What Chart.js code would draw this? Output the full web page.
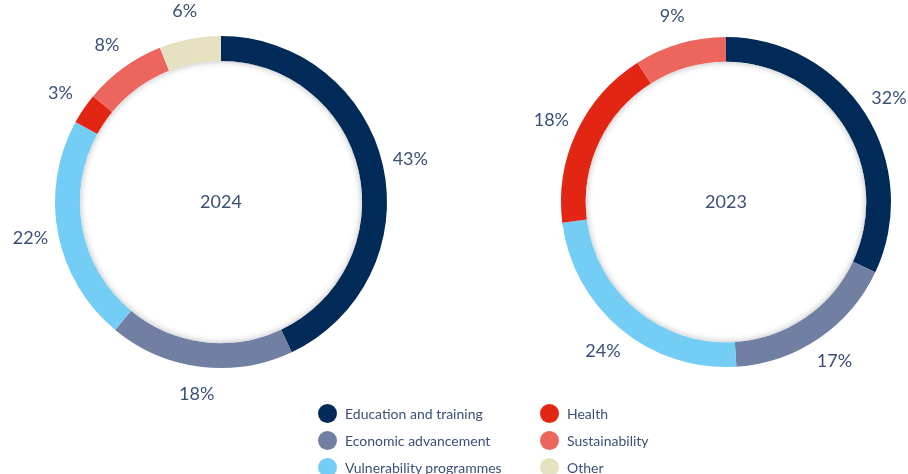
<!DOCTYPE html>
<html>
<head>
<meta charset="utf-8">
<script src="https://cdn.jsdelivr.net/npm/chart.js@4.4.1/dist/chart.umd.min.js"></script>
<style>
  html, body { margin: 0; padding: 0; background: #fff; }
  body { width: 908px; height: 474px; position: relative; overflow: hidden; font-family: Lato, "Open Sans", sans-serif; }
  #c2024 { position: absolute; left: 0; top: 0; }
  #c2023 { position: absolute; left: 526px; top: 0; }
  .legend { position: absolute; top: 400px; color: #3a5075; font-size: 14px; }
  .legend div { height: 27px; display: flex; align-items: center; }
  .legend span.dot { width: 19px; height: 19px; border-radius: 50%; display: inline-block; margin-right: 8px; }
</style>
</head>
<body>
<canvas id="c2024" width="442" height="404"></canvas>
<canvas id="c2023" width="382" height="404"></canvas>
<div class="legend" id="leg1" style="left:318px"></div>
<div class="legend" id="leg2" style="left:540px"></div>
<script>
// categories and values
const categories = ['Education and training', 'Economic advancement', 'Vulnerability programmes', 'Health', 'Sustainability', 'Other'];
const values2024 = [43, 18, 22, 3, 8, 6];
const values2023 = [32, 17, 24, 18, 9, 0];
const colors = ['#002b59', '#717fa3', '#73cdf5', '#e32514', '#ec665d', '#e6e1c0'];
const textColor = '#3a5075';

// percent labels outside the ring + centre text + inner shadow
const ringExtras = {
    id: 'ringExtras',
    afterDatasetsDraw(chart, args, opts) {
        const ctx = chart.ctx;
        const meta = chart.getDatasetMeta(0);
        const arc0 = meta.data[0];
        const cx = arc0.x, cy = arc0.y;
        const inner = arc0.innerRadius, outer = arc0.outerRadius;

        // soft shadow on the inner edge
        ctx.save();
        ctx.beginPath();
        ctx.arc(cx, cy, inner, 0, Math.PI * 2);
        ctx.clip();
        ctx.beginPath();
        ctx.arc(cx, cy, inner + 10, 0, Math.PI * 2);
        ctx.lineWidth = 20;
        ctx.strokeStyle = '#fff';
        ctx.shadowColor = 'rgba(0,0,0,0.28)';
        ctx.shadowBlur = 7;
        ctx.stroke();
        ctx.restore();

        ctx.save();
        ctx.fillStyle = textColor;
        ctx.font = '18px Lato, "Open Sans", sans-serif';
        ctx.textAlign = 'center';
        ctx.textBaseline = 'middle';
        ctx.fillText(opts.title, cx, cy);
        const data = chart.data.datasets[0].data;
        meta.data.forEach((a, i) => {
            if (!data[i]) return;
            const mid = (a.startAngle + a.endAngle) / 2;
            const r = outer + 28;
            ctx.fillText(data[i] + '%', cx + Math.cos(mid) * r, cy + Math.sin(mid) * r);
        });
        ctx.restore();
    }
};

const makeChart = (id, values, title, padding) => {
    new Chart(document.getElementById(id), {
        type: 'doughnut',
        data: {
            labels: categories,
            datasets: [{
                data: values,
                backgroundColor: colors,
                borderWidth: 0
            }]
        },
        options: {
            responsive: false,
            animation: false,
            cutout: '85%',
            layout: { padding: padding },
            plugins: {
                legend: { display: false },
                tooltip: { enabled: false },
                ringExtras: { title: title }
            }
        },
        plugins: [ringExtras]
    });
};

makeChart('c2024', values2024, '2024', { left: 55, right: 55, top: 36, bottom: 36 });
makeChart('c2023', values2023, '2023', { left: 35, right: 17, top: 37, bottom: 37 });

// legend in two columns
const buildLegend = () => {
    const cols = [document.getElementById('leg1'), document.getElementById('leg2')];
    categories.forEach((name, i) => {
        const row = document.createElement('div');
        row.innerHTML = `<span class="dot" style="background:${colors[i]}"></span>${name}`;
        cols[Math.floor(i / 3)].appendChild(row);
    });
};
buildLegend();
</script>
</body>
</html>
